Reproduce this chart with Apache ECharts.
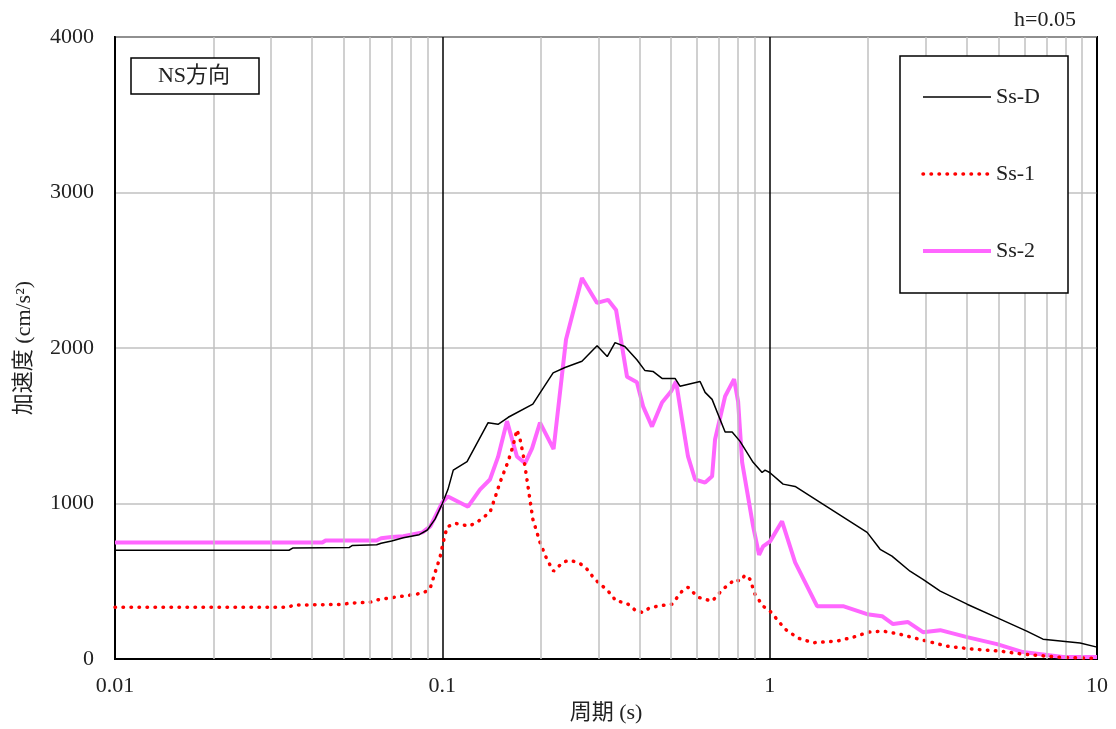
<!DOCTYPE html>
<html>
<head>
<meta charset="utf-8">
<script src="https://cdn.jsdelivr.net/npm/echarts@6/dist/echarts.min.js"></script>
<style>
html,body{margin:0;padding:0;background:#fff;}
#chart{width:1116px;height:729px;}
</style>
</head>
<body>
<div id="chart"></div>
<script>
// ---- Data (period in s, acceleration in cm/s^2) ----
const ssDPeriods = [0.01,0.034,0.035,0.052,0.053,0.063,0.065,0.07,0.076,0.085,0.09,0.095,0.1,0.104,0.108,0.119,0.138,0.148,0.159,0.189,0.2,0.218,0.237,0.267,0.297,0.319,0.337,0.361,0.393,0.416,0.44,0.469,0.514,0.532,0.613,0.635,0.667,0.731,0.768,0.812,0.89,0.948,0.968,1.0,1.099,1.196,1.426,1.985,2.175,2.364,2.684,2.94,3.32,4.01,5.06,6.1,6.84,8.88,10];
const ssDValues  = [700,700,715,718,730,735,745,760,780,800,830,900,1000,1090,1215,1270,1520,1510,1555,1640,1720,1840,1875,1915,2015,1945,2035,2010,1925,1855,1850,1805,1805,1755,1785,1715,1670,1460,1460,1400,1265,1200,1215,1200,1125,1110,1008,815,706,662,565,513,437,353,257,180,128,103,77];

const ss1Periods = [0.01,0.034,0.035,0.05,0.052,0.06,0.063,0.07,0.076,0.087,0.09,0.092,0.095,0.0984,0.1006,0.1034,0.1094,0.1206,0.1276,0.1398,0.145,0.15,0.1588,0.1644,0.169,0.1728,0.1766,0.1827,0.189,0.1988,0.2088,0.2187,0.2338,0.2439,0.258,0.269,0.2807,0.2887,0.3012,0.314,0.3276,0.3394,0.3566,0.3746,0.3907,0.4105,0.428,0.453,0.503,0.54,0.563,0.604,0.667,0.72,0.784,0.812,0.841,0.871,0.902,0.955,1.003,1.039,1.114,1.221,1.357,1.607,1.8,2.0,2.22,2.5,2.94,3.48,4.18,5.06,5.94,7.55,9.5,10];
const ss1Values  = [334,334,347,352,360,365,380,395,405,424,440,462,556,655,750,850,873,855,880,943,1040,1136,1270,1370,1475,1412,1316,1110,900,750,640,565,623,636,623,603,565,526,488,456,417,372,366,347,308,300,327,340,353,437,462,398,372,450,513,500,540,513,417,340,308,270,193,135,105,116,141,173,180,160,122,83,64,51,32,13,5,5];

const ss2Periods = [0.01,0.043,0.044,0.063,0.065,0.07,0.076,0.087,0.092,0.1,0.104,0.1198,0.1303,0.1398,0.148,0.1576,0.169,0.179,0.188,0.1988,0.2187,0.2387,0.267,0.297,0.3208,0.3394,0.3667,0.393,0.4105,0.437,0.469,0.4995,0.5176,0.54,0.563,0.5918,0.635,0.667,0.681,0.731,0.7785,0.801,0.824,0.89,0.928,0.955,1.003,1.091,1.196,1.396,1.676,1.985,2.205,2.382,2.648,2.94,3.32,4.01,4.95,5.94,7.88,10];
const ss2Values  = [750,750,763,763,777,785,790,815,855,1008,1046,980,1090,1155,1300,1530,1303,1260,1355,1520,1350,2055,2450,2290,2310,2245,1815,1780,1625,1495,1650,1720,1785,1540,1303,1155,1135,1175,1412,1690,1800,1655,1265,855,670,725,757,886,622,340,340,289,276,225,238,173,186,141,96,45,13,13];

const seriesNames = ['Ss-D','Ss-1','Ss-2'];
const xTickLabels = ['0.01','0.1','1','10'];
const yTicks = [0,1000,2000,3000,4000];
const minorGridPeriods = [0.02,0.03,0.04,0.05,0.06,0.07,0.08,0.09,0.2,0.3,0.4,0.5,0.6,0.7,0.8,0.9,2,3,4,5,6,7,8,9];

const zip = (p, v) => p.map((t, i) => [t, v[i]]);
const FONT = "'Liberation Serif','Noto Sans CJK JP',serif";
const FS = 22;

const lineStyles = [
  { color: '#000', width: 1.5 },
  { color: '#ff0000', width: 3.5, type: [0.5, 7.5], cap: 'round' },
  { color: '#ff66ff', width: 4 }
];

const chart = echarts.init(document.getElementById('chart'));
chart.setOption({
  animation: false,
  backgroundColor: '#fff',
  textStyle: { fontFamily: FONT },
  grid: { left: 115, right: 19, top: 37, bottom: 69, show: true, borderColor: '#000', borderWidth: 2, backgroundColor: 'transparent' },
  xAxis: {
    type: 'log', logBase: 10, min: 0.01, max: 10,
    name: '周期 (s)', nameLocation: 'middle', nameGap: 40,
    nameTextStyle: { fontSize: FS, color: '#222', fontFamily: FONT },
    axisLine: { show: true, lineStyle: { color: '#000', width: 2 } },
    axisTick: { show: false },
    minorTick: { show: false },
    axisLabel: { fontSize: FS, color: '#222', margin: 16, fontFamily: FONT,
      formatter: v => { const i = Math.round(Math.log10(v)) + 2; return xTickLabels[i] !== undefined ? xTickLabels[i] : ''; } },
    splitLine: { show: true, lineStyle: { color: '#000', width: 1.5 } }
  },
  yAxis: {
    type: 'value', min: yTicks[0], max: yTicks[yTicks.length - 1], interval: 1000,
    name: '加速度 (cm/s²)', nameLocation: 'middle', nameGap: 80, nameRotate: 90,
    nameTextStyle: { fontSize: FS, color: '#222', fontFamily: FONT },
    axisLine: { show: true, lineStyle: { color: '#000', width: 2 } },
    axisTick: { show: false },
    axisLabel: { fontSize: FS, color: '#222', margin: 21, fontFamily: FONT, formatter: v => String(v) },
    splitLine: { show: true, lineStyle: { color: '#c0c0c0', width: 1.5 } }
  },
  legend: {
    data: seriesNames.map((n, i) => ({ name: n, lineStyle: lineStyles[i] })),
    orient: 'vertical', left: 916, top: 81,
    itemWidth: 68, itemHeight: 16, itemGap: 55, itemTextGap: 10,
    itemStyle: { opacity: 0 },
    textStyle: { fontSize: FS, color: '#222', fontFamily: FONT },
    z: 30
  },
  graphic: [
    { type: 'rect', z: 20, shape: { x: 131, y: 58, width: 128, height: 36 }, style: { fill: '#fff', stroke: '#000', lineWidth: 1.5 } },
    { type: 'text', z: 21, x: 194, y: 76, style: { text: 'NS方向', font: FS + "px " + FONT, fill: '#222', textAlign: 'center', textVerticalAlign: 'middle' } },
    { type: 'rect', z: 20, shape: { x: 900, y: 56, width: 168, height: 237 }, style: { fill: '#fff', stroke: '#000', lineWidth: 1.5 } },
    { type: 'text', z: 21, x: 1076, y: 20, style: { text: 'h=0.05', font: FS + "px " + FONT, fill: '#222', textAlign: 'right', textVerticalAlign: 'middle' } }
  ],
  series: [
    {
      name: 'minor', type: 'line', data: [], silent: true, z: 1,
      markLine: { silent: true, symbol: 'none', animation: false, label: { show: false },
        lineStyle: { color: '#c0c0c0', type: 'solid', width: 1.5 },
        data: minorGridPeriods.map(v => ({ xAxis: v })) }
    },
    { name: seriesNames[0], type: 'line', data: zip(ssDPeriods, ssDValues), showSymbol: false, symbol: 'none', z: 5,
      lineStyle: lineStyles[0], itemStyle: { color: '#000' } },
    { name: seriesNames[1], type: 'line', data: zip(ss1Periods, ss1Values), showSymbol: false, symbol: 'none', z: 4,
      lineStyle: lineStyles[1], itemStyle: { color: '#ff0000' } },
    { name: seriesNames[2], type: 'line', data: zip(ss2Periods, ss2Values), showSymbol: false, symbol: 'none', z: 3,
      lineStyle: lineStyles[2], itemStyle: { color: '#ff66ff' } }
  ]
});
</script>
</body>
</html>
